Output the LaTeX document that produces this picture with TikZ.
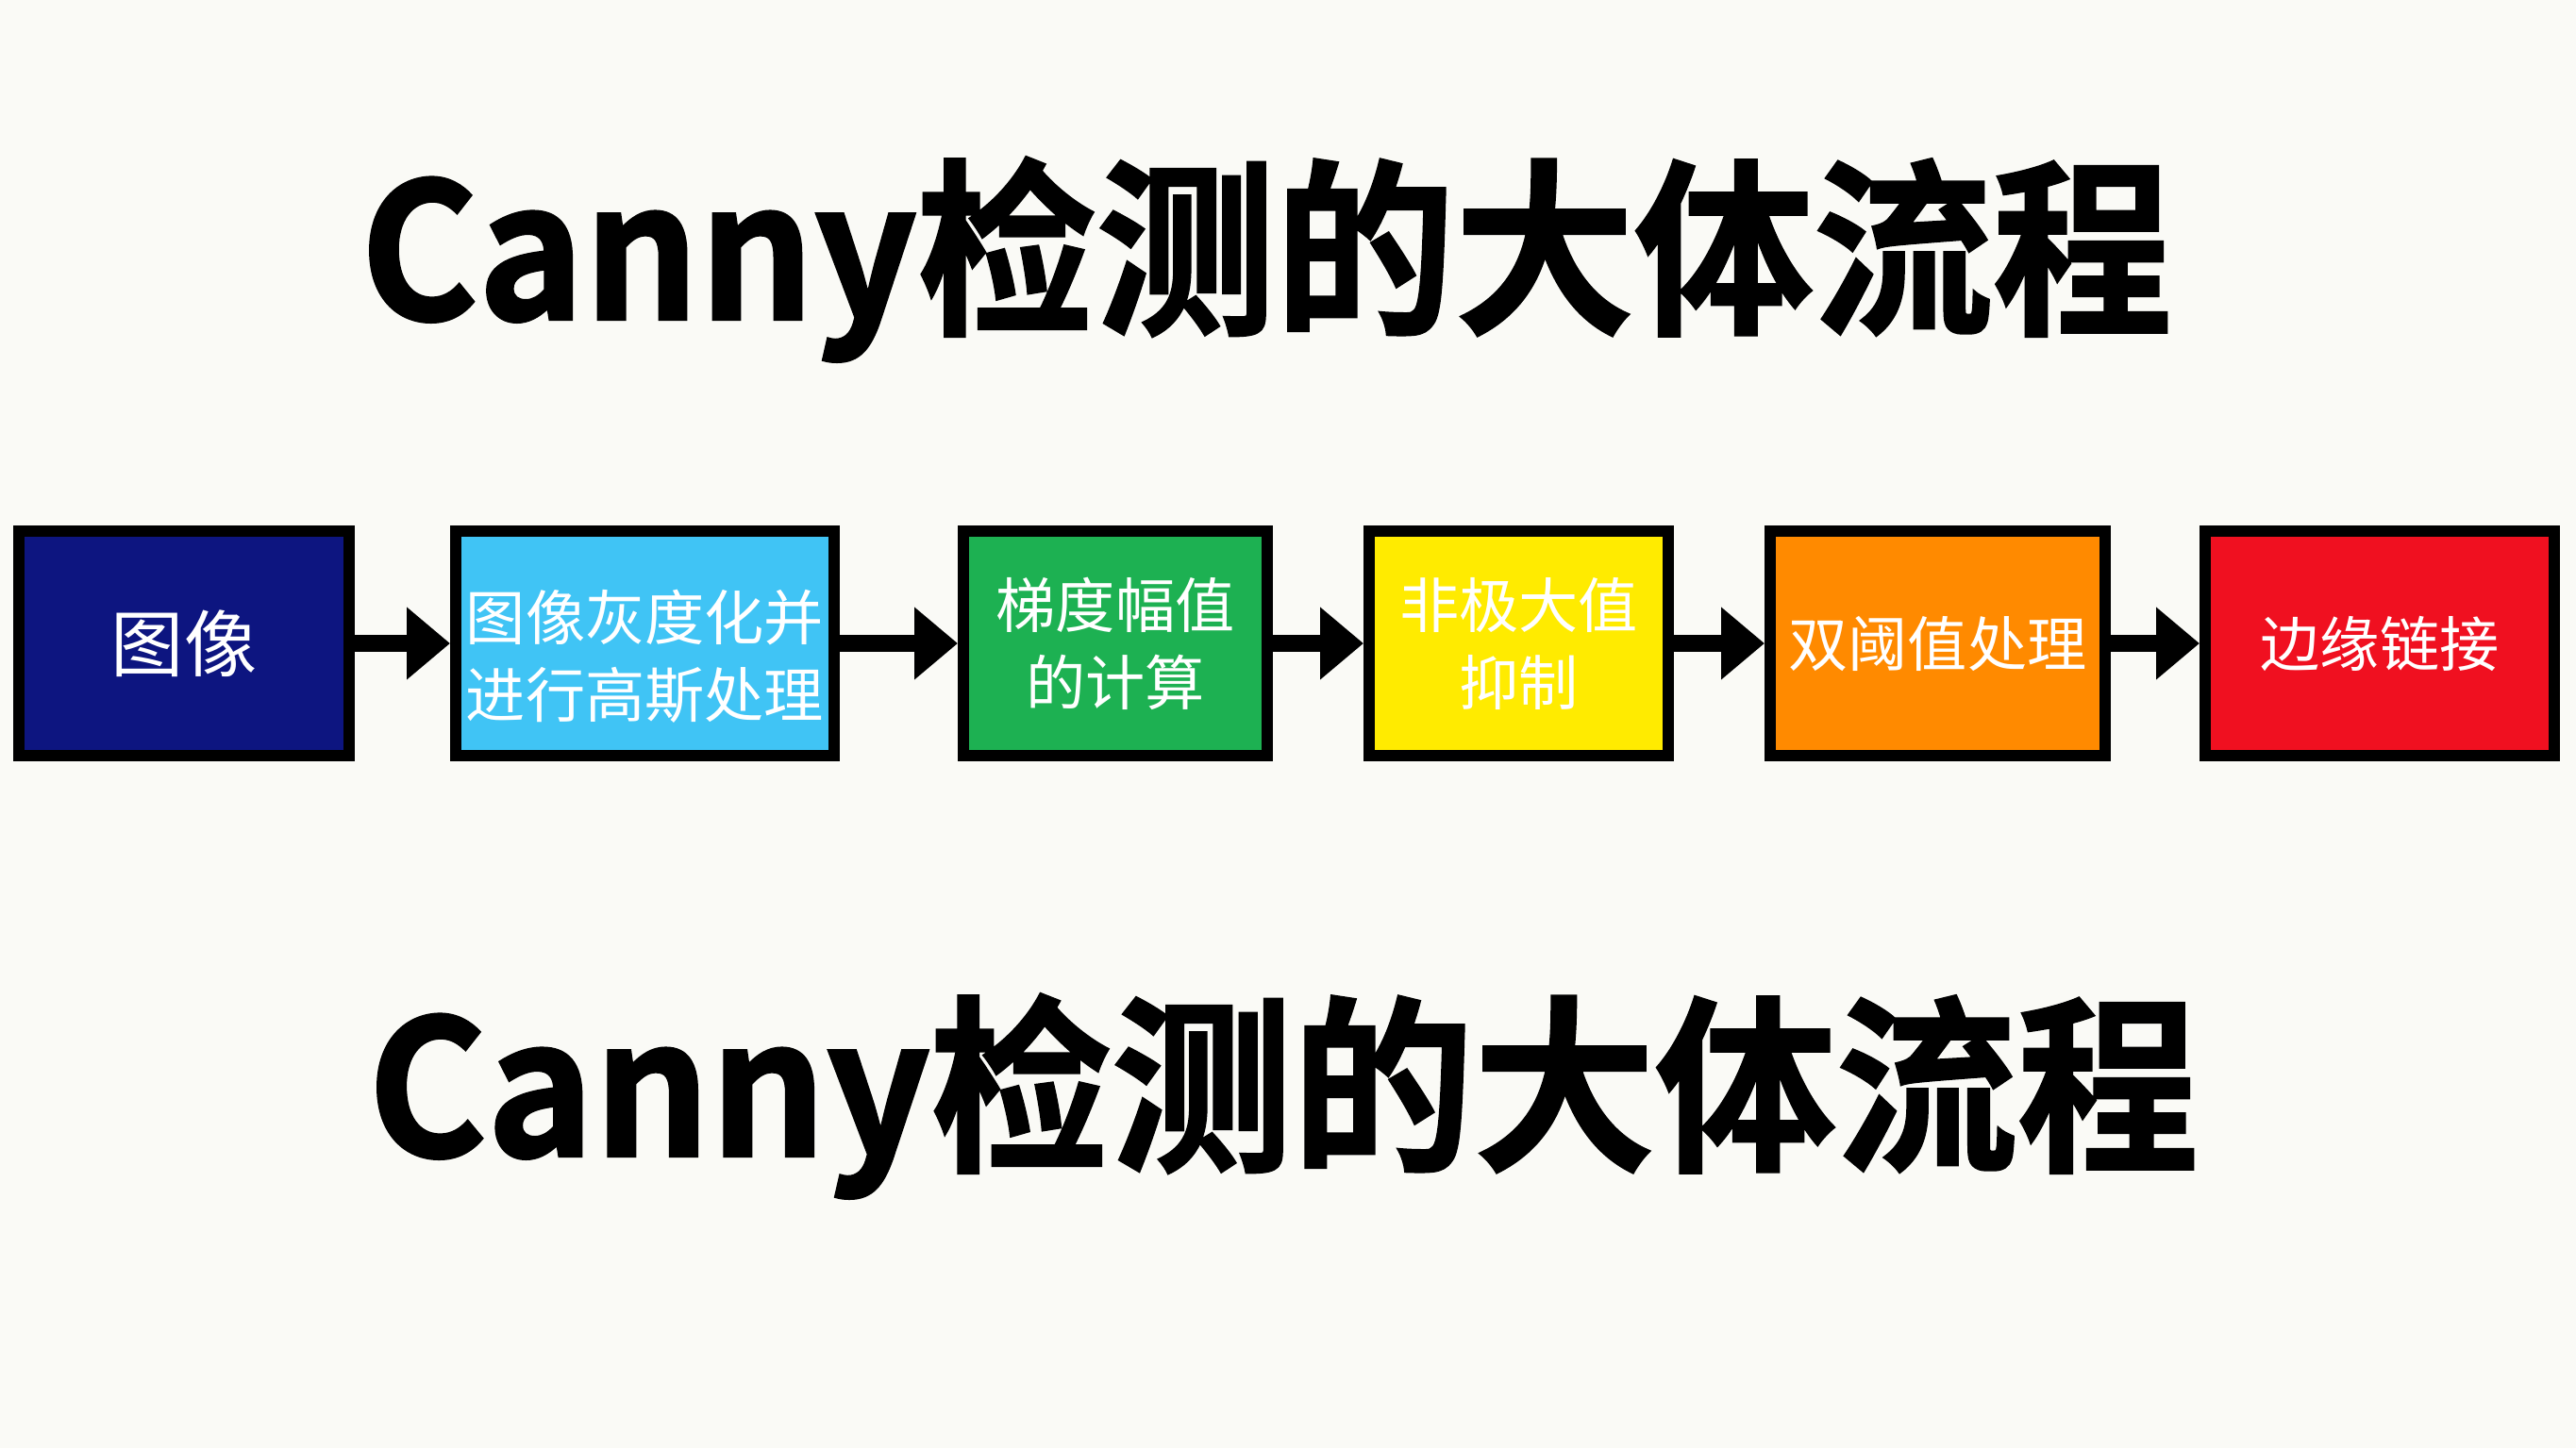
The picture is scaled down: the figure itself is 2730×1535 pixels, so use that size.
\documentclass[tikz,border=0pt]{standalone}
\usepackage{fontspec}
\usetikzlibrary{arrows.meta}
\newfontfamily\cjk{Noto Sans CJK SC}
\newfontfamily\cjkheavy[FakeBold=1.5]{Noto Sans CJK SC Bold}
\definecolor{bgc}{HTML}{FAFAF6}
\definecolor{c1}{HTML}{0D1580}
\definecolor{c2}{HTML}{40C4F5}
\definecolor{c3}{HTML}{1DB152}
\definecolor{c4}{HTML}{FFEB00}
\definecolor{c5}{HTML}{FF8A00}
\definecolor{c6}{HTML}{F01020}
\tikzset{
  stagebox/.style={draw=black, line width=3pt, inner sep=0pt, minimum height=59.5pt,
    text=white, align=center, font=\cjk\fontsize{15.8}{20.5}\selectfont},
  flowarrow/.style={line width=4.5pt, -{Triangle[length=11.5pt,width=18.5pt]}},
  titletext/.style={inner sep=0pt, font=\cjkheavy\fontsize{50}{60}\selectfont}
}
\begin{document}
\begin{tikzpicture}[x=0.25pt,y=-0.25pt]
\fill[bgc] (0,0) rectangle (2730,1535);
\useasboundingbox (0,0) rectangle (2730,1535);
\node[titletext] (t1) at (1342,275) {\scalebox{0.95}[1]{Canny检测的大体流程}};
\node[titletext] (t2) at (1360,1162) {\scalebox{0.96}[1]{Canny检测的大体流程}};
\node[stagebox, fill=c1, minimum width=87.5pt, font=\cjk\fontsize{19.3}{22}\selectfont] (b1) at (195,682) {图像};
\node[stagebox, fill=c2, minimum width=100.25pt] (b2) at (683.5,682) {\rule{0pt}{20pt}图像灰度化并\\进行高斯处理};
\node[stagebox, fill=c3, minimum width=80.5pt] (b3) at (1182,682) {梯度幅值\\的计算};
\node[stagebox, fill=c4, minimum width=79.25pt] (b4) at (1609.5,682) {非极大值\\抑制};
\node[stagebox, fill=c5, minimum width=88.75pt] (b5) at (2053.5,682) {双阈值处理};
\node[stagebox, fill=c6, minimum width=92.5pt] (b6) at (2522,682) {边缘链接};
\draw[flowarrow] (b1) -- (b2);
\draw[flowarrow] (b2) -- (b3);
\draw[flowarrow] (b3) -- (b4);
\draw[flowarrow] (b4) -- (b5);
\draw[flowarrow] (b5) -- (b6);
\end{tikzpicture}
\end{document}
